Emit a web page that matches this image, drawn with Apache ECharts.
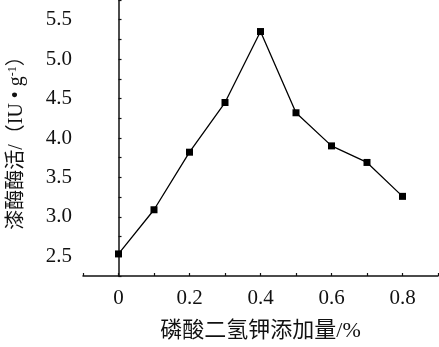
<!DOCTYPE html>
<html><head><meta charset="utf-8">
<script src="https://cdn.jsdelivr.net/npm/echarts@6/dist/echarts.min.js"></script>
<style>html,body{margin:0;padding:0;background:#fff}#c{width:439px;height:347px}</style>
</head><body><div id="c"></div>
<script>
const xValues = [0, 0.1, 0.2, 0.3, 0.4, 0.5, 0.6, 0.7, 0.8];
const yValues = [2.53, 3.09, 3.82, 4.45, 5.35, 4.32, 3.90, 3.69, 3.26];
const xTickLabels = ['0', '0.2', '0.4', '0.6', '0.8'];
const yTickLabels = ['2.5', '3.0', '3.5', '4.0', '4.5', '5.0', '5.5'];

const FONT = '"Liberation Serif", "Times New Roman", "Noto Sans CJK SC", serif';
const chart = echarts.init(document.getElementById('c'), null, {renderer: 'canvas'});
chart.setOption({
  animation: false,
  backgroundColor: '#fff',
  grid: {left: 83, right: 1, top: 0, bottom: 71, containLabel: false, outerBoundsMode: 'none'},
  xAxis: {
    type: 'value', min: -0.1, max: 0.9, interval: 0.1,
    name: '磷酸二氢钾添加量/%', nameLocation: 'middle', nameGap: 44,
    nameTextStyle: {fontFamily: FONT, fontSize: 22, color: '#111'},
    axisLine: {show: true, lineStyle: {color: '#111', width: 1.5}},
    axisTick: {show: true, inside: true, length: 3, lineStyle: {color: '#111', width: 1.2}},
    splitLine: {show: false},
    axisLabel: {
      fontFamily: FONT, fontSize: 21, color: '#111', margin: 12,
      showMinLabel: true, showMaxLabel: true,
      formatter: function (v) {
        const s = String(Math.round(v * 10) / 10);
        return xTickLabels.indexOf(s) >= 0 ? s : '';
      }
    }
  },
  yAxis: {
    type: 'value', min: 2.25, max: 5.75, interval: 0.25,
    name: '{a|漆酶酶活/（IU • g}{s|-1}{a|）}', nameLocation: 'middle', nameGap: 56,
    nameTextStyle: {
      fontFamily: FONT, fontSize: 20, color: '#111',
      rich: {
        a: {fontFamily: FONT, fontSize: 20, color: '#111'},
        s: {fontFamily: FONT, fontSize: 12, color: '#111', verticalAlign: 'top', padding: [0, 0, 8, 0]}
      }
    },
    axisLine: {show: true, lineStyle: {color: '#111', width: 1.5}},
    axisTick: {show: true, inside: true, length: 3, lineStyle: {color: '#111', width: 1.2}},
    splitLine: {show: false},
    axisLabel: {
      fontFamily: FONT, fontSize: 21, color: '#111', margin: 11,
      formatter: function (v) {
        const t = (Math.round(v * 10) / 10).toFixed(1);
        return (Math.abs(v * 2 - Math.round(v * 2)) < 1e-6 && yTickLabels.indexOf(t) >= 0) ? t : '';
      }
    }
  },
  series: [{
    type: 'line',
    data: xValues.map((x, i) => [x, yValues[i]]),
    symbol: 'rect', symbolSize: 7,
    itemStyle: {color: '#000'},
    lineStyle: {color: '#000', width: 1.3}
  }]
});
</script></body></html>
